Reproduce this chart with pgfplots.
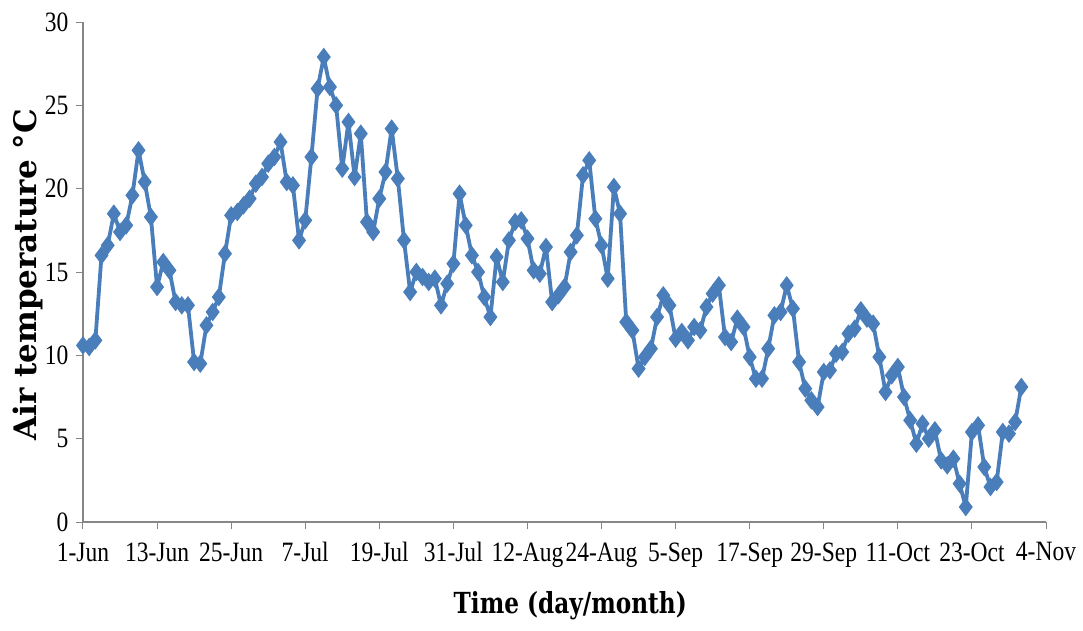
\documentclass[border=0pt]{standalone}
\usepackage{fontspec}
\setmainfont{Liberation Serif}[FakeStretch=0.84]
\newfontfamily\labfont{DejaVu Serif}
\newfontfamily\labfontx{DejaVu Serif}[FakeStretch=0.8]
\usepackage{pgfplots}
\pgfplotsset{compat=1.18}
\usepackage{pgfplotstable}
\definecolor{lineblue}{HTML}{4A7EBB}
\definecolor{axgray}{HTML}{868686}
\pgfplotstableread{
day t
0 10.6
1 10.5
2 10.9
3 16.0
4 16.6
5 18.5
6 17.4
7 17.8
8 19.6
9 22.3
10 20.4
11 18.3
12 14.1
13 15.6
14 15.1
15 13.2
16 13.0
17 13.0
18 9.6
19 9.5
20 11.8
21 12.6
22 13.5
23 16.1
24 18.4
25 18.6
26 19.0
27 19.4
28 20.3
29 20.7
30 21.5
31 21.9
32 22.8
33 20.4
34 20.2
35 16.9
36 18.1
37 21.9
38 26.0
39 27.9
40 26.1
41 25.0
42 21.2
43 24.0
44 20.7
45 23.3
46 18.0
47 17.4
48 19.4
49 21.0
50 23.6
51 20.6
52 16.9
53 13.8
54 15.0
55 14.7
56 14.4
57 14.6
58 13.0
59 14.3
60 15.5
61 19.7
62 17.8
63 16.0
64 15.0
65 13.5
66 12.3
67 15.9
68 14.4
69 16.9
70 18.0
71 18.1
72 17.0
73 15.1
74 14.9
75 16.5
76 13.2
77 13.6
78 14.1
79 16.2
80 17.2
81 20.8
82 21.7
83 18.2
84 16.6
85 14.6
86 20.1
87 18.5
88 12.0
89 11.5
90 9.2
91 9.9
92 10.4
93 12.3
94 13.6
95 13.0
96 11.0
97 11.4
98 10.9
99 11.7
100 11.5
101 12.9
102 13.7
103 14.2
104 11.1
105 10.8
106 12.2
107 11.7
108 9.9
109 8.6
110 8.6
111 10.4
112 12.4
113 12.6
114 14.2
115 12.8
116 9.6
117 8.0
118 7.3
119 6.9
120 9.0
121 9.1
122 10.1
123 10.2
124 11.3
125 11.6
126 12.7
127 12.2
128 11.9
129 9.9
130 7.8
131 8.8
132 9.3
133 7.5
134 6.1
135 4.7
136 5.9
137 5.0
138 5.5
139 3.7
140 3.4
141 3.8
142 2.3
143 0.9
144 5.4
145 5.8
146 3.3
147 2.1
148 2.4
149 5.4
150 5.3
151 6.0
152 8.1
}\datatable
\begin{document}
\begin{tikzpicture}
\path[use as bounding box] (-83pt,-108pt) rectangle (1000pt,522pt);
\begin{axis}[
  at={(0,0)}, anchor=south west,
  scale only axis, width=963pt, height=500pt,
  xmin=0, xmax=156, ymin=0, ymax=30,
  axis x line=bottom, axis y line=left,
  axis line style={-, axgray, line width=1.5pt},
  xtick={0,12,...,156},
  xticklabels={1-Jun,13-Jun,25-Jun,7-Jul,19-Jul,31-Jul,12-Aug,24-Aug,5-Sep,17-Sep,29-Sep,11-Oct,23-Oct,4-Nov},
  ytick={0,5,...,30},
  tick style={axgray, line width=1pt},
  tick align=outside,
  major tick length=7pt,
  /pgf/number format/assume math mode=true,
  ticklabel style={font=\fontsize{28}{30}\selectfont},
  xticklabel style={yshift=-10pt},
  yticklabel style={xshift=-4pt},
  xlabel={\labfontx\bfseries Time (day/month)},
  ylabel={\labfont\bfseries Air temperature °C},
  xlabel style={at={(axis description cs:0.506,-0.168)}, anchor=center, font=\fontsize{29}{32}\selectfont},
  ylabel style={at={(axis description cs:-0.0571,0.494)}, anchor=center, font=\fontsize{31}{34}\selectfont},
  clip=false,
]
\addplot[lineblue, line width=3.8pt, line join=round, mark=diamond*, mark size=8.5pt, mark options={solid, fill=lineblue, line width=1pt, line join=miter}] table[x=day,y=t]{\datatable};
\end{axis}
\end{tikzpicture}
\end{document}
